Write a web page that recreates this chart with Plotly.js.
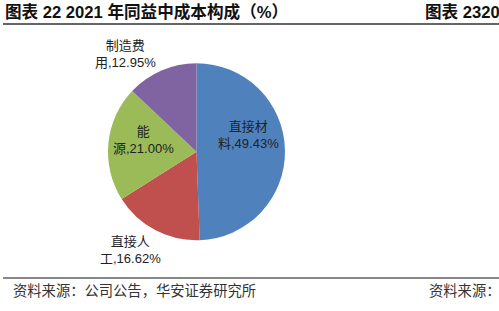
<!DOCTYPE html>
<html>
<head>
<meta charset="utf-8">
<script src="https://cdn.plot.ly/plotly-3.0.1.min.js"></script>
<style>html,body{margin:0;padding:0;background:#fff;}#chart{width:499px;height:311px;}</style>
</head>
<body>
<div id="chart"></div>
<script>
// Data
var categories = ["直接材料", "直接人工", "能源", "制造费用"];
var values = [49.43, 16.62, 21.00, 12.95];
// label line breaks (text split as in the picture)
var labelLine1 = ["直接材", "直接人", "能", "制造费"];
var labelLine2 = ["料", "工", "源", "用"];
var colors = ["#4F81BD", "#C0504D", "#9BBB59", "#8064A2"];
// label centres in pixels (layout)
var labelPos = [[248, 135], [130, 250], [143, 140], [126, 54]];

var W = 499, H = 311;
function px(x){return x / W;}
function py(y){return 1 - y / H;}

var cjk = '"Liberation Sans", "Noto Sans CJK SC", sans-serif';

var annotations = categories.map(function(c, i){
  return {
    xref: 'paper', yref: 'paper',
    x: px(labelPos[i][0]), y: py(labelPos[i][1]),
    xanchor: 'center', yanchor: 'middle',
    showarrow: false, align: 'center',
    text: labelLine1[i] + '<br>' + labelLine2[i] + ',' + values[i].toFixed(2) + '%',
    font: {family: cjk, size: 13, color: '#222'}
  };
});

annotations.push({
  xref: 'paper', yref: 'paper', x: px(3), y: py(12), xanchor: 'left', yanchor: 'middle',
  showarrow: false, text: '<b>图表 22 2021 年同益中成本构成（%）</b>',
  font: {family: cjk, size: 16.6, color: '#111'}
});
annotations.push({
  xref: 'paper', yref: 'paper', x: px(423), y: py(12), xanchor: 'left', yanchor: 'middle',
  showarrow: false, text: '<b>图表 2320</b>',
  font: {family: cjk, size: 16.6, color: '#111'}
});
annotations.push({
  xref: 'paper', yref: 'paper', x: px(11), y: py(291), xanchor: 'left', yanchor: 'middle',
  showarrow: false, text: '资料来源：公司公告，华安证券研究所',
  font: {family: cjk, size: 14.3, color: '#333'}
});
annotations.push({
  xref: 'paper', yref: 'paper', x: px(427), y: py(291), xanchor: 'left', yanchor: 'middle',
  showarrow: false, text: '资料来源：',
  font: {family: cjk, size: 14.3, color: '#333'}
});

var trace = {
  type: 'pie',
  labels: categories,
  values: values,
  sort: false,
  direction: 'clockwise',
  rotation: 0,
  marker: {colors: colors, line: {width: 0}},
  textinfo: 'none',
  hoverinfo: 'label+value',
  domain: {x: [px(108), px(285)], y: [py(240.5), py(63)]},
  showlegend: false
};

var layout = {
  width: W, height: H,
  margin: {l: 0, r: 0, t: 0, b: 0},
  paper_bgcolor: '#fff',
  showlegend: false,
  annotations: annotations,
  shapes: [
    {type: 'line', xref: 'paper', yref: 'paper', x0: px(3), x1: 1, y0: py(24), y1: py(24), line: {color: '#333', width: 1.5}},
    {type: 'line', xref: 'paper', yref: 'paper', x0: px(3), x1: 1, y0: py(278), y1: py(278), line: {color: '#888', width: 2}}
  ]
};

Plotly.newPlot('chart', [trace], layout, {displayModeBar: false, staticPlot: true});
</script>
</body>
</html>
